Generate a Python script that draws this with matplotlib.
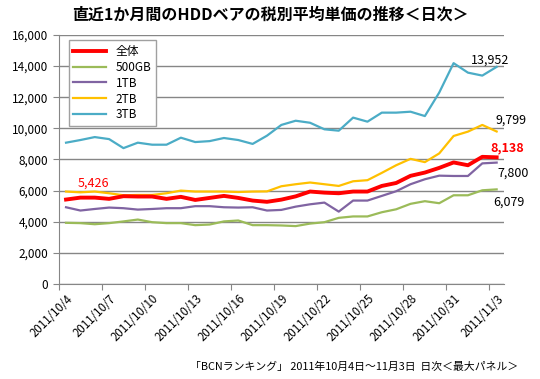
import numpy as np
import matplotlib
matplotlib.use('Agg')
import matplotlib.pyplot as plt
from matplotlib.ticker import FuncFormatter, FixedLocator

plt.rcParams['font.family'] = ['Noto Sans CJK JP', 'DejaVu Sans']

# Daily dates 2011/10/4 - 2011/11/3
dates = ['2011/10/%d' % d for d in range(4, 32)] + ['2011/11/%d' % d for d in range(1, 4)]

tb3 = [9080, 9250, 9440, 9310, 8730, 9080, 8950, 8950, 9400, 9120, 9180, 9380, 9250, 9000, 9530, 10220,
       10490, 10360, 9940, 9850, 10690, 10430, 11010, 11010, 11070, 10790, 12300, 14190, 13580, 13390, 13952]
tb2 = [5940, 5890, 5940, 5830, 5700, 5720, 5720, 5830, 6000, 5940, 5940, 5940, 5910, 5940, 5950, 6280,
       6410, 6520, 6410, 6300, 6600, 6670, 7140, 7630, 8040, 7830, 8390, 9510, 9790, 10220, 9799]
total = [5426, 5550, 5550, 5470, 5640, 5620, 5620, 5470, 5600, 5400, 5530, 5660, 5530, 5360, 5280, 5420,
         5630, 5940, 5870, 5830, 5940, 5940, 6300, 6490, 6950, 7160, 7460, 7810, 7630, 8170, 8138]
tb1 = [4930, 4720, 4820, 4910, 4870, 4780, 4820, 4870, 4870, 5000, 5000, 4930, 4910, 4930, 4720, 4760,
       4970, 5120, 5230, 4650, 5360, 5360, 5660, 5960, 6410, 6730, 6960, 6940, 6940, 7750, 7800]
gb500 = [3930, 3910, 3840, 3910, 4020, 4140, 3970, 3910, 3910, 3780, 3820, 4020, 4080, 3780, 3780, 3760,
         3720, 3880, 3970, 4250, 4340, 4340, 4610, 4800, 5150, 5320, 5190, 5700, 5700, 6020, 6079]

x = np.arange(len(dates))

fig = plt.figure(figsize=(5.4, 3.79), dpi=100)
ax = fig.add_axes([0.109, 0.2507, 0.824, 0.657])

ax.plot(x, total, color='#FF0000', lw=2.8, label='全体', zorder=5)
ax.plot(x, gb500, color='#9BBB59', lw=1.6, label='500GB')
ax.plot(x, tb1, color='#8064A2', lw=1.6, label='1TB')
ax.plot(x, tb2, color='#FFC000', lw=1.6, label='2TB')
ax.plot(x, tb3, color='#4BACC6', lw=1.6, label='3TB')

ax.set_xlim(-0.5, len(dates) - 0.5)
ax.set_ylim(0, 16000)
ax.set_yticks(np.arange(0, 16001, 2000))
ax.yaxis.set_major_formatter(FuncFormatter(lambda v, p: '{:,.0f}'.format(v)))
ax.grid(axis='y', color='#868686', lw=1)
ax.set_axisbelow(True)

# tick marks at category boundaries, labels at every third day
ax.xaxis.set_major_locator(FixedLocator(np.arange(-0.5, len(dates), 3)))
ax.xaxis.set_major_formatter(FuncFormatter(lambda v, p: ''))
ax.xaxis.set_minor_locator(FixedLocator(x[::3]))
ax.set_xticklabels([dates[i] for i in x[::3]], minor=True, rotation=45, ha='right', va='top',
                   rotation_mode='anchor', fontsize=8.3)
ax.tick_params(axis='x', which='minor', length=0, pad=6)
ax.tick_params(axis='x', which='major', length=4, color='#868686')
ax.tick_params(axis='y', length=4, color='#868686', labelsize=8.5)

for s in ['top', 'right']:
    ax.spines[s].set_visible(False)
for s in ['left', 'bottom']:
    ax.spines[s].set_color('#868686')

leg = ax.legend(loc='upper left', bbox_to_anchor=(0.022, 0.98), borderaxespad=0, fontsize=8.5,
                handlelength=2.8, fancybox=False, edgecolor='#A0A0A0', labelspacing=0.25,
                borderpad=0.4, framealpha=1)
leg.get_frame().set_linewidth(1)

# value labels
ax.annotate('5,426', xy=(0, total[0]), xytext=(27, 16), textcoords='offset pixels',
            ha='center', va='center', color='#FF0000', fontsize=9)
ax.annotate('13,952', xy=(30, tb3[-1]), xytext=(-7, 7), textcoords='offset pixels',
            ha='center', va='center', fontsize=9)
ax.annotate('9,799', xy=(30, tb2[-1]), xytext=(14, 11), textcoords='offset pixels',
            ha='center', va='center', fontsize=9)
ax.annotate('8,138', xy=(30, total[-1]), xytext=(11, 9), textcoords='offset pixels',
            ha='center', va='center', color='#FF0000', fontsize=9, fontweight='bold')
ax.annotate('7,800', xy=(30, tb1[-1]), xytext=(16, -11), textcoords='offset pixels',
            ha='center', va='center', fontsize=9)
ax.annotate('6,079', xy=(30, gb500[-1]), xytext=(12, -13), textcoords='offset pixels',
            ha='center', va='center', fontsize=9)

fig.text(0.5, 0.96, '直近1か月間のHDDベアの税別平均単価の推移＜日次＞', ha='center', va='center',
         fontsize=11.5, fontweight='bold')
fig.text(0.96, 0.032, '「BCNランキング」 2011年10月4日～11月3日  日次＜最大パネル＞', ha='right', va='center',
         fontsize=7.8)

fig.savefig('out.png', dpi=100)
